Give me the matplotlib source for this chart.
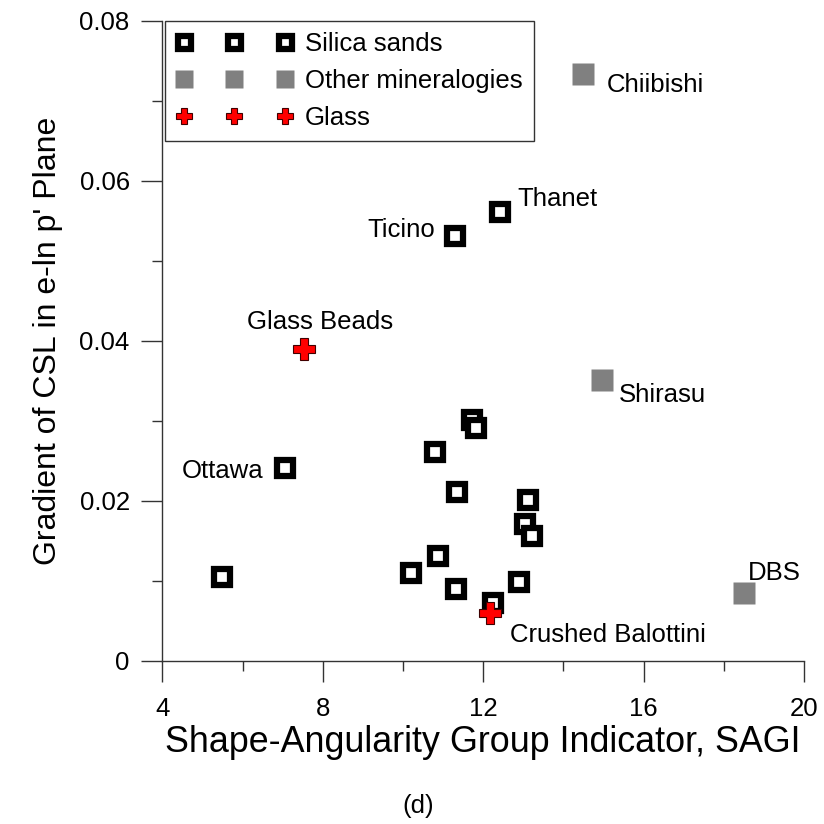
# Gradient of CSL vs SAGI scatter

import matplotlib
matplotlib.use("Agg")
import matplotlib.pyplot as plt
from matplotlib.ticker import MultipleLocator

plt.rcParams['font.family'] = ['Liberation Sans', 'DejaVu Sans']

# Silica sands
silica_x = [11.29, 12.42, 7.05, 5.48, 10.80, 11.34, 11.72, 11.82, 13.12, 13.04,
            13.21, 10.87, 10.20, 11.32, 12.89, 12.24]
silica_y = [0.0531, 0.0561, 0.0241, 0.0104, 0.0261, 0.0211, 0.0301, 0.0291, 0.0201, 0.0171,
            0.0156, 0.0131, 0.0109, 0.0089, 0.0098, 0.0072]

# Other mineralogies
other_names = ['Chiibishi', 'Shirasu', 'DBS']
other_x = [14.49, 14.96, 18.50]
other_y = [0.0733, 0.0351, 0.0084]

# Glass
glass_names = ['Glass Beads', 'Crushed Balottini']
glass_x = [7.53, 12.17]
glass_y = [0.0390, 0.0059]

fig = plt.figure(figsize=(8.24, 8.24), dpi=100)
ax = fig.add_axes([0.1972, 0.1984, 0.7785, 0.7767])

ax.plot(silica_x, silica_y, 's', ms=11.7, mfc='white', mec='black', mew=4.5,
        label='Silica sands')
ax.plot(other_x, other_y, 's', ms=15.8, mfc='#808080', mec='none',
        label='Other mineralogies')
ax.plot(glass_x, glass_y, 'P', ms=15.2, mfc='#ff0000', mec='#400000', mew=0.8,
        label='Glass')

# labels next to named points (offsets in pixels)
ax.annotate('Ticino', (silica_x[0], silica_y[0]), xytext=(-20, -1), textcoords='offset pixels',
            ha='right', va='baseline', fontsize=18.5)
ax.annotate('Thanet', (silica_x[1], silica_y[1]), xytext=(17, 6), textcoords='offset pixels',
            ha='left', va='baseline', fontsize=18.5)
ax.annotate('Ottawa', (silica_x[2], silica_y[2]), xytext=(-21, -10), textcoords='offset pixels',
            ha='right', va='baseline', fontsize=18.5)
ax.annotate(other_names[0], (other_x[0], other_y[0]), xytext=(24, -18), textcoords='offset pixels',
            ha='left', va='baseline', fontsize=18.5)
ax.annotate(other_names[1], (other_x[1], other_y[1]), xytext=(17, -22), textcoords='offset pixels',
            ha='left', va='baseline', fontsize=18.5)
ax.annotate(other_names[2], (other_x[2], other_y[2]), xytext=(4, 13), textcoords='offset pixels',
            ha='left', va='baseline', fontsize=18.5)
ax.annotate(glass_names[0], (glass_x[0], glass_y[0]), xytext=(16, 20), textcoords='offset pixels',
            ha='center', va='baseline', fontsize=18.5)
ax.annotate(glass_names[1], (glass_x[1], glass_y[1]), xytext=(20, -29), textcoords='offset pixels',
            ha='left', va='baseline', fontsize=18.5)

ax.set_xlim(4, 20)
ax.set_ylim(0, 0.08)
ax.xaxis.set_major_locator(MultipleLocator(4))
ax.xaxis.set_minor_locator(MultipleLocator(2))
ax.yaxis.set_minor_locator(MultipleLocator(0.01))
ax.set_yticks([0, 0.02, 0.04, 0.06, 0.08])
ax.set_yticklabels(['0', '0.02', '0.04', '0.06', '0.08'])

for s in ['top', 'right']:
    ax.spines[s].set_visible(False)
for s in ['left', 'bottom']:
    ax.spines[s].set_color('#333333')
    ax.spines[s].set_linewidth(1.0)

ax.tick_params(which='major', direction='out', length=15, width=1.0, color='#333333',
               labelsize=18.5)
ax.tick_params(axis='x', which='major', pad=11.5)
ax.tick_params(axis='y', which='major', pad=8.6)
ax.tick_params(which='minor', direction='out', length=7.5, width=1.0, color='#333333')

ax.set_xlabel('Shape-Angularity Group Indicator, SAGI', fontsize=25.8, labelpad=3)
ax.set_ylabel("Gradient of CSL in e-ln p' Plane", fontsize=23, labelpad=12)

leg = ax.legend(loc='upper left', bbox_to_anchor=(0.004, 1.0), borderaxespad=0,
                numpoints=3, handlelength=4.5, handletextpad=0.5, markerscale=0.8,
                fontsize=18.5, labelspacing=0.5, fancybox=False, framealpha=1,
                edgecolor='#333333', borderpad=0.45)
leg.get_frame().set_linewidth(1.0)

# sub-figure tag under the plot
fig.text(0.507, 0.022, '(d)', ha='center', va='center', fontsize=18.5)

fig.savefig('out.png', dpi=100)
